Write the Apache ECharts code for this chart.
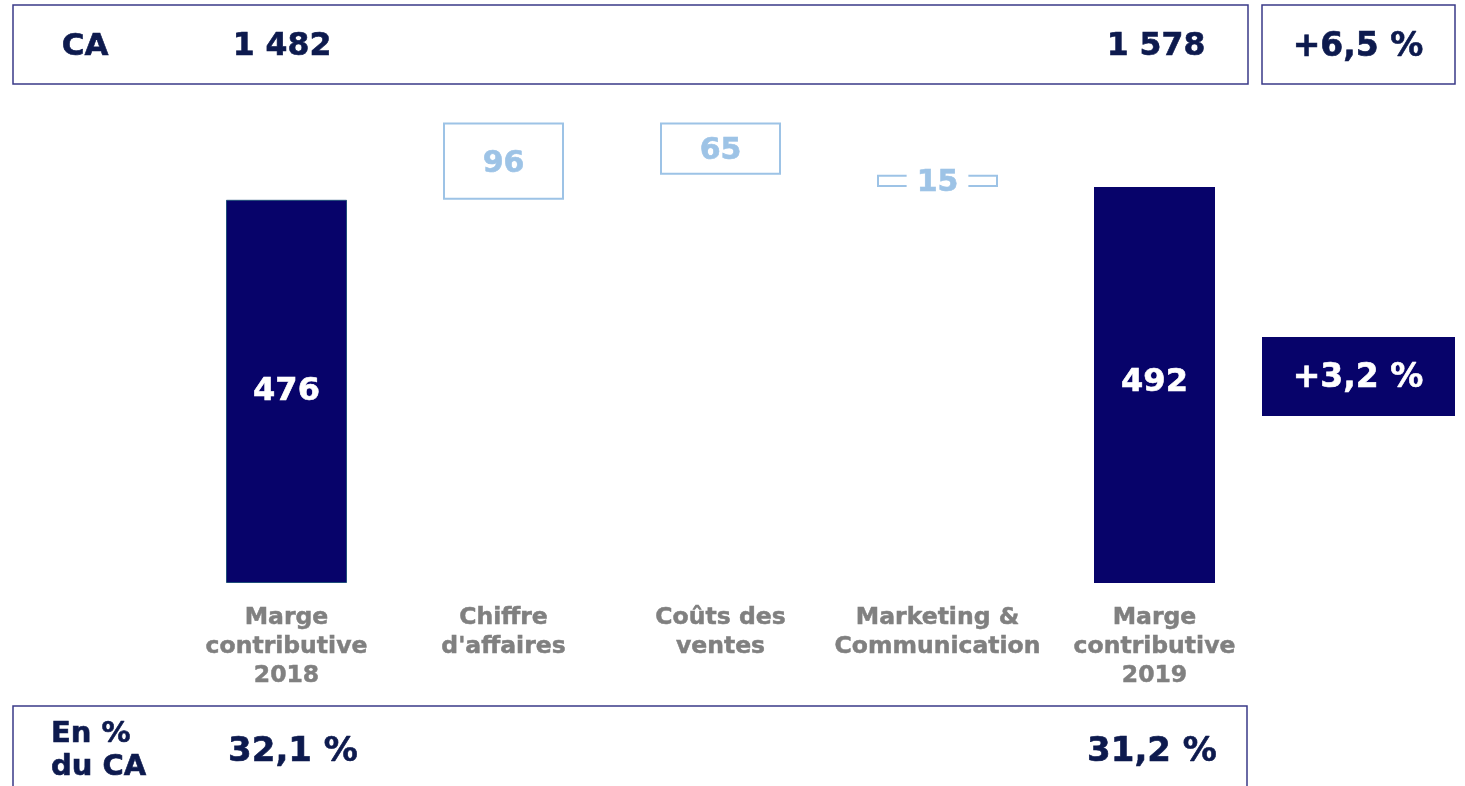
<!DOCTYPE html>
<html><head><meta charset="utf-8">
<script src="https://cdn.jsdelivr.net/npm/echarts@6/dist/echarts.min.js"></script>
<style>html,body{margin:0;padding:0;background:#fff}#c{width:1465px;height:786px}</style>
</head><body><div id="c"></div>
<script>
const categories = ['Marge\ncontributive\n2018', "Chiffre\nd'affaires", 'Coûts des\nventes', 'Marketing &\nCommunication', 'Marge\ncontributive\n2019'];
const startValue = 476;
const deltas = [96, -65, -15];
const endValue = 492;
const caLabel = 'CA';
const caValues = ['1 482', '1 578'];
const caGrowth = '+6,5 %';
const margeGrowth = '+3,2 %';
const pctLabel = 'En %\ndu CA';
const pctValues = ['32,1 %', '31,2 %'];

const NAVY = '#07036a';
const TXT = '#0d1a4e';
const LIGHT = '#9dc3e6';
const BORDER = '#3a3a88';
const GRAY = '#808080';
const FONT = '"DejaVu Sans", Verdana, sans-serif';

const base = [0];
const vis = [{
  value: startValue,
  itemStyle: { color: NAVY, borderColor: '#1f4e79', borderWidth: 1 },
  label: { color: '#fff', fontSize: 32, textBorderColor: '#fff', textBorderWidth: 0.6 }
}];
let run = startValue;
deltas.forEach((d) => {
  let b;
  if (d >= 0) { b = run; run += d; } else { run += d; b = run; }
  base.push(b);
  const item = {
    value: Math.abs(d),
    itemStyle: { color: '#fff', borderColor: LIGHT, borderWidth: 2 },
    label: { color: LIGHT, fontSize: 30, offset: [0, 3], textBorderColor: LIGHT, textBorderWidth: 0.6 }
  };
  if (Math.abs(d) < 30) {
    item.label.backgroundColor = '#fff';
    item.label.padding = [0, 10];
    item.label.offset = [0, 2];
  }
  vis.push(item);
});
base.push(0);
vis.push({ value: endValue, itemStyle: { color: NAVY },
  label: { color: '#fff', fontSize: 32, offset: [0, -2], textBorderColor: '#fff', textBorderWidth: 0.6 } });

const chart = echarts.init(document.getElementById('c'));
const txt = (t, x, y, size, color, align) => ({
  type: 'text', z: 10,
  style: { text: t, x: x, y: y, fill: color || TXT, font: 'bold ' + size + 'px ' + FONT,
    stroke: color || TXT, lineWidth: 0.6,
    align: align || 'center', verticalAlign: 'middle', textAlign: align || 'center', textVerticalAlign: 'middle', lineHeight: 33 }
});
chart.setOption({
  animation: false,
  grid: { left: 178, right: 202, top: 100, bottom: 203 },
  xAxis: {
    type: 'category', data: categories,
    axisLine: { show: false }, axisTick: { show: false },
    axisLabel: { interval: 0, color: GRAY, fontSize: 23.5, fontWeight: 'bold', fontFamily: FONT, lineHeight: 29, margin: 20,
      textBorderColor: GRAY, textBorderWidth: 0.5 }
  },
  yAxis: { type: 'value', min: 0, max: 600, show: false, splitLine: { show: false } },
  series: [
    { type: 'bar', stack: 'w', data: base, barWidth: 121, itemStyle: { color: 'transparent' }, silent: true },
    { type: 'bar', stack: 'w', data: vis, barWidth: 121,
      label: { show: true, position: 'inside', fontFamily: FONT, fontWeight: 'bold', formatter: p => String(p.value) } }
  ],
  graphic: [
    { type: 'rect', shape: { x: 13, y: 5, width: 1235, height: 79 }, style: { fill: '#fff', stroke: BORDER, lineWidth: 1.5 } },
    { type: 'rect', shape: { x: 1262, y: 5, width: 193, height: 79 }, style: { fill: '#fff', stroke: BORDER, lineWidth: 1.5 } },
    { type: 'rect', shape: { x: 1262, y: 337, width: 193, height: 79 }, style: { fill: NAVY } },
    { type: 'rect', shape: { x: 13, y: 706, width: 1234, height: 100 }, style: { fill: '#fff', stroke: BORDER, lineWidth: 1.5 } },
    txt(caLabel, 85, 47, 31),
    txt(caValues[0], 282, 47, 31.5),
    txt(caValues[1], 1156, 47, 31.5),
    txt(caGrowth, 1358, 47, 33),
    txt(margeGrowth, 1358, 378, 33, '#fff'),
    txt(pctLabel, 51, 751, 29, TXT, 'left'),
    txt(pctValues[0], 293, 752, 34),
    txt(pctValues[1], 1152, 752, 34)
  ]
});
</script></body></html>
